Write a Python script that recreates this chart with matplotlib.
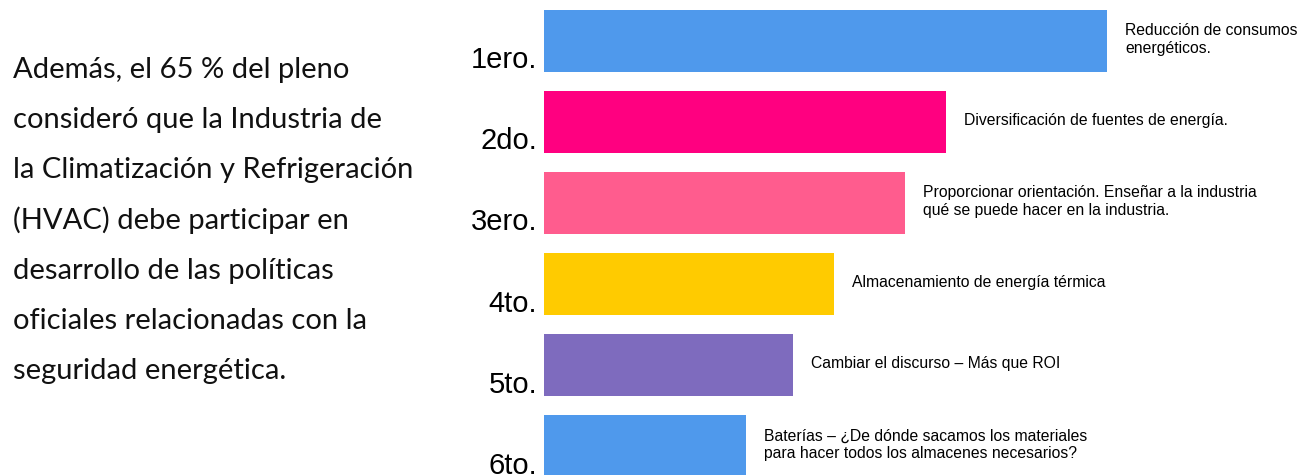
import matplotlib
matplotlib.use("Agg")
import matplotlib.pyplot as plt

# ranking data (bar lengths)
ranks = ["1ero.", "2do.", "3ero.", "4to.", "5to.", "6to."]
values = [563, 402, 361, 290, 249, 202]
notes = [
    "Reducción de consumos\nenergéticos.",
    "Diversificación de fuentes de energía.",
    "Proporcionar orientación. Enseñar a la industria\nqué se puede hacer en la industria.",
    "Almacenamiento de energía térmica",
    "Cambiar el discurso – Más que ROI",
    "Baterías – ¿De dónde sacamos los materiales\npara hacer todos los almacenes necesarios?",
]
colors = ["#4f99ec", "#ff0080", "#ff5c8e", "#ffcb00", "#7e6bbe", "#4f99ec"]

paragraph = [
    "Además, el 65 % del pleno",
    "consideró que la Industria de",
    "la Climatización y Refrigeración",
    "(HVAC) debe participar en",
    "desarrollo de las políticas",
    "oficiales relacionadas con la",
    "seguridad energética.",
]

W, H = 1313, 475
fig = plt.figure(figsize=(W / 100, H / 100), dpi=100)

# left text block
for k, line in enumerate(paragraph):
    fig.text(13 / W, 1 - (78 + 50.2 * k) / H, line, fontsize=21,
             family="Lato", color="#111111", va="baseline", ha="left")

# bar chart
ax = fig.add_axes([544 / W, 0, 1 - 544 / W, 1])
bar_h = 0.77
ypos = list(range(len(ranks)))
ax.barh(ypos, values, height=bar_h, color=colors)
ax.set_xlim(0, W - 544)
ax.set_ylim(5.357, -0.503)
ax.axis("off")

for i, (r, v, n) in enumerate(zip(ranks, values, notes)):
    ax.annotate(r, xy=(0, i + 0.34), xytext=(-5, 0), textcoords="offset points",
                ha="right", va="baseline", fontsize=21, family="Liberation Sans",
                annotation_clip=False)
    ax.annotate(n, xy=(v, i), xytext=(13, 1), textcoords="offset points",
                ha="left", va="center", fontsize=11.3, family="Liberation Sans",
                linespacing=1.2, annotation_clip=False)

fig.savefig("out.png", dpi=100)
